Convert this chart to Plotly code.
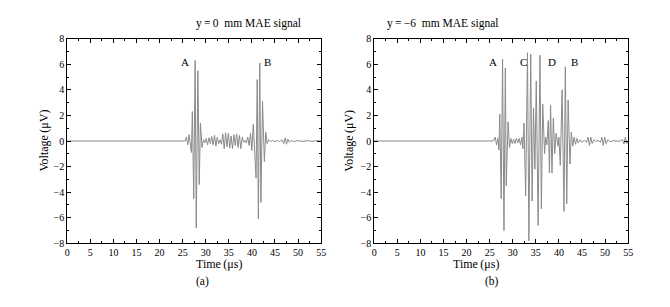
import plotly.graph_objects as go

# Left panel (a): y = 0 mm, extrema of the MAE signal (time in µs, voltage in µV)
t_a = [0, 25.5, 25.8, 26.1, 26.4, 26.7, 26.9, 27.1, 27.4, 27.7, 27.95, 28.3, 28.6, 28.85, 29.2, 29.5,
       29.8, 30.1, 30.4, 30.7, 31.0, 31.3, 31.6, 31.9, 32.2, 32.5, 32.8, 33.1, 33.4, 33.7, 34.0,
       34.3, 34.6, 34.9, 35.2, 35.5, 35.8, 36.1, 36.4, 36.7, 37.0, 37.3, 37.6, 37.9, 38.2, 38.5,
       38.8, 39.1, 39.4, 39.7, 40.0, 40.3, 40.6, 40.9, 41.15, 41.4, 41.7, 41.95, 42.3, 42.7, 43.0,
       43.3, 43.6, 44.0, 44.5, 45.0, 45.5, 46.0, 46.5, 46.9, 47.2, 47.5, 47.8, 48.1, 48.5, 49.0,
       50.0, 51.0, 52.0, 53.0, 54.0, 55.0]
v_a = [0, 0, 0.3, -0.3, 0.5, -0.5, -0.9, 2.3, -4.5, 6.3, -6.8, 5.5, -3.4, 1.4, -0.5, 0.1,
       -0.15, 0.2, -0.3, 0.25, -0.2, 0.35, -0.3, 0.45, -0.4, 0.3, -0.2, 0.1, -0.25, 0.55, -0.6,
       0.65, -0.45, 0.6, -0.55, 0.4, -0.6, 0.5, -0.35, 0.55, -0.5, 0.45, -0.6, 0.3, -0.1, 0.05,
       -0.15, 0.3, -0.35, 0.6, -0.75, 1.3, -1.5, -2.9, 4.8, -6.1, 6.1, -4.8, 3.1, -1.6, 0.7,
       -0.2, 0.1, -0.05, 0.05, -0.05, 0.05, -0.05, 0.1, -0.2, 0.25, -0.25, 0.15, -0.1, 0.05, -0.05,
       0.03, -0.03, 0.03, -0.03, 0.03, 0]

# Right panel (b): y = -6 mm
t_b = [0, 25.8, 26.2, 26.5, 26.8, 27.0, 27.2, 27.5, 27.8, 28.1, 28.4, 28.6, 29.0, 29.3, 29.6,
       29.9, 30.2, 30.5, 30.8, 31.1, 31.4, 31.7, 32.0, 32.2, 32.45, 32.8, 33.2, 33.5, 33.9, 34.2,
       34.5, 34.8, 35.1, 35.5, 35.9, 36.2, 36.5, 36.9, 37.15, 37.4, 37.7, 37.95, 38.2, 38.5, 38.8,
       39.1, 39.4, 39.8, 40.0, 40.3, 40.7, 41.1, 41.4, 41.7, 42.0, 42.4, 42.7, 43.0, 43.3, 43.6,
       43.9, 44.2, 44.6, 45.0, 45.5, 46.0, 46.3, 46.6, 46.9, 47.2, 47.6, 48.0, 48.5, 49.0, 49.3,
       49.6, 49.9, 50.2, 50.6, 51.0, 52.0, 53.0, 53.8, 54.1, 54.4, 54.7, 55.0]
v_b = [0, 0, 0.3, -0.3, 0.2, -0.7, 2.1, -4.5, 6.4, -7.0, 5.7, -3.5, 1.5, -0.5, 0.2,
       -0.2, 0.15, -0.2, 0.2, -0.15, 0.2, -0.3, 0.3, -0.6, 1.4, -4.3, 6.9, -7.8, 6.8, -4.7,
       2.6, -2.2, 4.7, -6.6, 6.7, -5.3, 2.9, -1.0, 0.3, -0.3, 1.6, -2.5, 2.8, -2.5, 1.8,
       -1.0, 0.6, -0.4, 0.3, -1.9, 4.0, -5.5, 5.8, -4.9, 3.2, -1.8, 0.7, -0.4, 0.3, -0.25,
       0.2, -0.15, 0.1, -0.1, 0.05, -0.1, 0.3, -0.35, 0.3, -0.2, 0.1, -0.05, 0.05, -0.1, 0.3,
       -0.35, 0.3, -0.2, 0.1, -0.05, 0.03, -0.03, 0.1, -0.25, 0.3, -0.2, 0]

x_ticks = [0, 5, 10, 15, 20, 25, 30, 35, 40, 45, 50, 55]
y_ticks = [-8, -6, -4, -2, 0, 2, 4, 6, 8]

titles = ["y\u2009=\u20090  mm MAE signal", "y\u2009=\u2009\u22126  mm MAE signal"]
sublabels = ["(a)", "(b)"]
peak_labels_a = [("A", 25.5), ("B", 43.4)]
peak_labels_b = [("A", 25.8), ("C", 32.3), ("D", 38.4), ("B", 43.3)]

FONT = "Liberation Serif, Times New Roman, serif"
W, H = 670, 307
ydom = [(307 - 247) / H, (307 - 34) / H]
xdoms = [[65 / W, 322 / W], [375.7 / W, 632.7 / W]]

fig = go.Figure()
fig.add_trace(go.Scatter(x=t_a, y=v_a, mode="lines", line=dict(color="#8a8a8a", width=1),
                         xaxis="x", yaxis="y", showlegend=False))
fig.add_trace(go.Scatter(x=t_b, y=v_b, mode="lines", line=dict(color="#8a8a8a", width=1),
                         xaxis="x2", yaxis="y2", showlegend=False))

axis_common = dict(showline=True, linecolor="black", linewidth=1, mirror="allticks",
                   ticks="inside", ticklen=4, tickwidth=1, tickcolor="black",
                   showgrid=False, zeroline=False,
                   tickfont=dict(family=FONT, size=10, color="black"))
xa = dict(axis_common, range=[0, 55], tickvals=x_ticks,
          minor=dict(ticks="inside", ticklen=2, dtick=2.5, tick0=0, tickcolor="black"))
ya = dict(axis_common, range=[-8, 8], tickvals=y_ticks,
          minor=dict(ticks="inside", ticklen=2, dtick=1, tick0=0, tickcolor="black"))

fig.update_layout(
    width=W, height=H, margin=dict(l=0, r=0, t=0, b=0),
    paper_bgcolor="white", plot_bgcolor="white",
    font=dict(family=FONT, color="black"),
    xaxis=dict(xa, domain=xdoms[0], anchor="y"),
    yaxis=dict(ya, domain=ydom, anchor="x"),
    xaxis2=dict(xa, domain=xdoms[1], anchor="y2"),
    yaxis2=dict(ya, domain=ydom, anchor="x2"),
)

anns = []
for i, dom in enumerate(xdoms):
    cx = (dom[0] + dom[1]) / 2
    anns.append(dict(x=cx, y=1 - 18 / H, xref="paper", yref="paper", text=titles[i],
                     yanchor="middle", showarrow=False,
                     font=dict(family=FONT, size=11.5, color="black")))
    anns.append(dict(x=cx, y=1 - 268 / H, xref="paper", yref="paper", text="Time\u2009(\u03bcs)",
                     yanchor="middle", showarrow=False,
                     font=dict(family=FONT, size=12, color="black")))
    anns.append(dict(x=cx, y=1 - 287 / H, xref="paper", yref="paper", text=sublabels[i],
                     yanchor="middle", showarrow=False,
                     font=dict(family=FONT, size=11.5, color="black")))
    lx = (41 if i == 0 else 350) / W
    anns.append(dict(x=lx, y=(ydom[0] + ydom[1]) / 2, xref="paper", yref="paper",
                     text="Voltage\u2009(\u03bcV)", textangle=-90, showarrow=False,
                     xanchor="center", yanchor="middle",
                     font=dict(family=FONT, size=12, color="black")))

for lab, tx in peak_labels_a:
    anns.append(dict(x=tx, y=6.2, xref="x", yref="y", text=lab, showarrow=False,
                     font=dict(family=FONT, size=11, color="black")))
for lab, tx in peak_labels_b:
    anns.append(dict(x=tx, y=6.2, xref="x2", yref="y2", text=lab, showarrow=False,
                     font=dict(family=FONT, size=11, color="black")))

fig.update_layout(annotations=anns)
fig.write_html("out.html", config={"displayModeBar": False},
               post_script="document.body.style.margin='0';")
